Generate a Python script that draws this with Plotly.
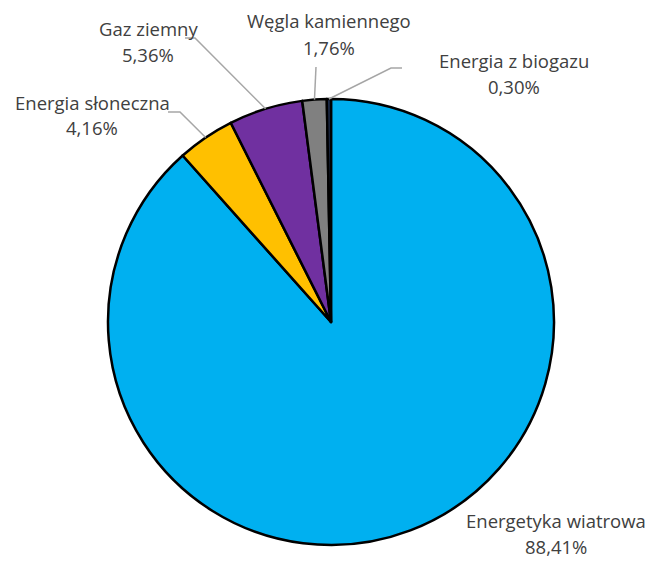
import math
import plotly.graph_objects as go

# ---- data ----
labels = ["Energetyka wiatrowa", "Energia słoneczna", "Gaz ziemny", "Węgla kamiennego", "Energia z biogazu"]
values = [88.41, 4.16, 5.36, 1.76, 0.30]
colors = ["#00B0F0", "#FFC000", "#7030A0", "#808080", "#1F2F50"]

OFF = 8                      # page body margin of the browser
W, H = 654 - OFF, 561 - OFF  # figure size
cx, cy, r = 331, 322, 223    # pie centre / radius in page px (layout)

# label anchor positions (page px): (name centre x, name centre y, pct centre y)
label_pos = [
    (556, 520, 546),
    (92, 102, 128),
    (148, 28, 55),
    (329, 21, 48),
    (514, 60, 87),
]
# leader elbow / end points (page px)
leaders = {
    1: [(180, 112), (168, 112)],
    2: [(195, 38), (185, 38)],
    3: [(316, 67)],
    4: [(391, 68), (402, 68)],
}

def px(x, y):
    return (x - OFF) / W, 1 - (y - OFF) / H

dx0, dy1 = px(cx - r, cy - r)
dx1, dy0 = px(cx + r, cy + r)

fig = go.Figure(go.Pie(
    labels=labels, values=values, sort=False, direction="clockwise", rotation=0,
    marker=dict(colors=colors, line=dict(color="black", width=2.5)),
    textinfo="none", showlegend=False,
    domain=dict(x=[dx0, dx1], y=[dy0, dy1]),
))

font = dict(family="Open Sans, sans-serif", size=18.5, color="#404040")
ann = []
shapes = []
total = sum(values)
cum = 0.0
for i, (lab, v) in enumerate(zip(labels, values)):
    mid = (cum + v / 2) / total
    cum += v
    th = 2 * math.pi * mid
    sx, sy = cx + r * math.sin(th), cy - r * math.cos(th)
    nx, ny, py = label_pos[i]
    x0, y0 = px(nx, ny)
    ann.append(dict(x=x0, y=y0, xref="paper", yref="paper", text=lab, showarrow=False,
                    font=font, xanchor="center", yanchor="middle"))
    x1, y1 = px(nx, py)
    pct = f"{v:.2f}".replace(".", ",") + "%"
    ann.append(dict(x=x1, y=y1, xref="paper", yref="paper", text=pct, showarrow=False,
                    font=font, xanchor="center", yanchor="middle"))
    if i in leaders:
        pts = [(sx, sy)] + leaders[i]
        path = "M " + " L ".join(f"{px(a, b)[0]},{px(a, b)[1]}" for a, b in pts)
        shapes.append(dict(type="path", path=path, xref="paper", yref="paper",
                           line=dict(color="#A6A6A6", width=1.5)))

fig.update_layout(
    width=W, height=H, margin=dict(l=0, r=0, t=0, b=0),
    paper_bgcolor="white", plot_bgcolor="white",
    annotations=ann, shapes=shapes,
)
fig.write_html("out.html")
